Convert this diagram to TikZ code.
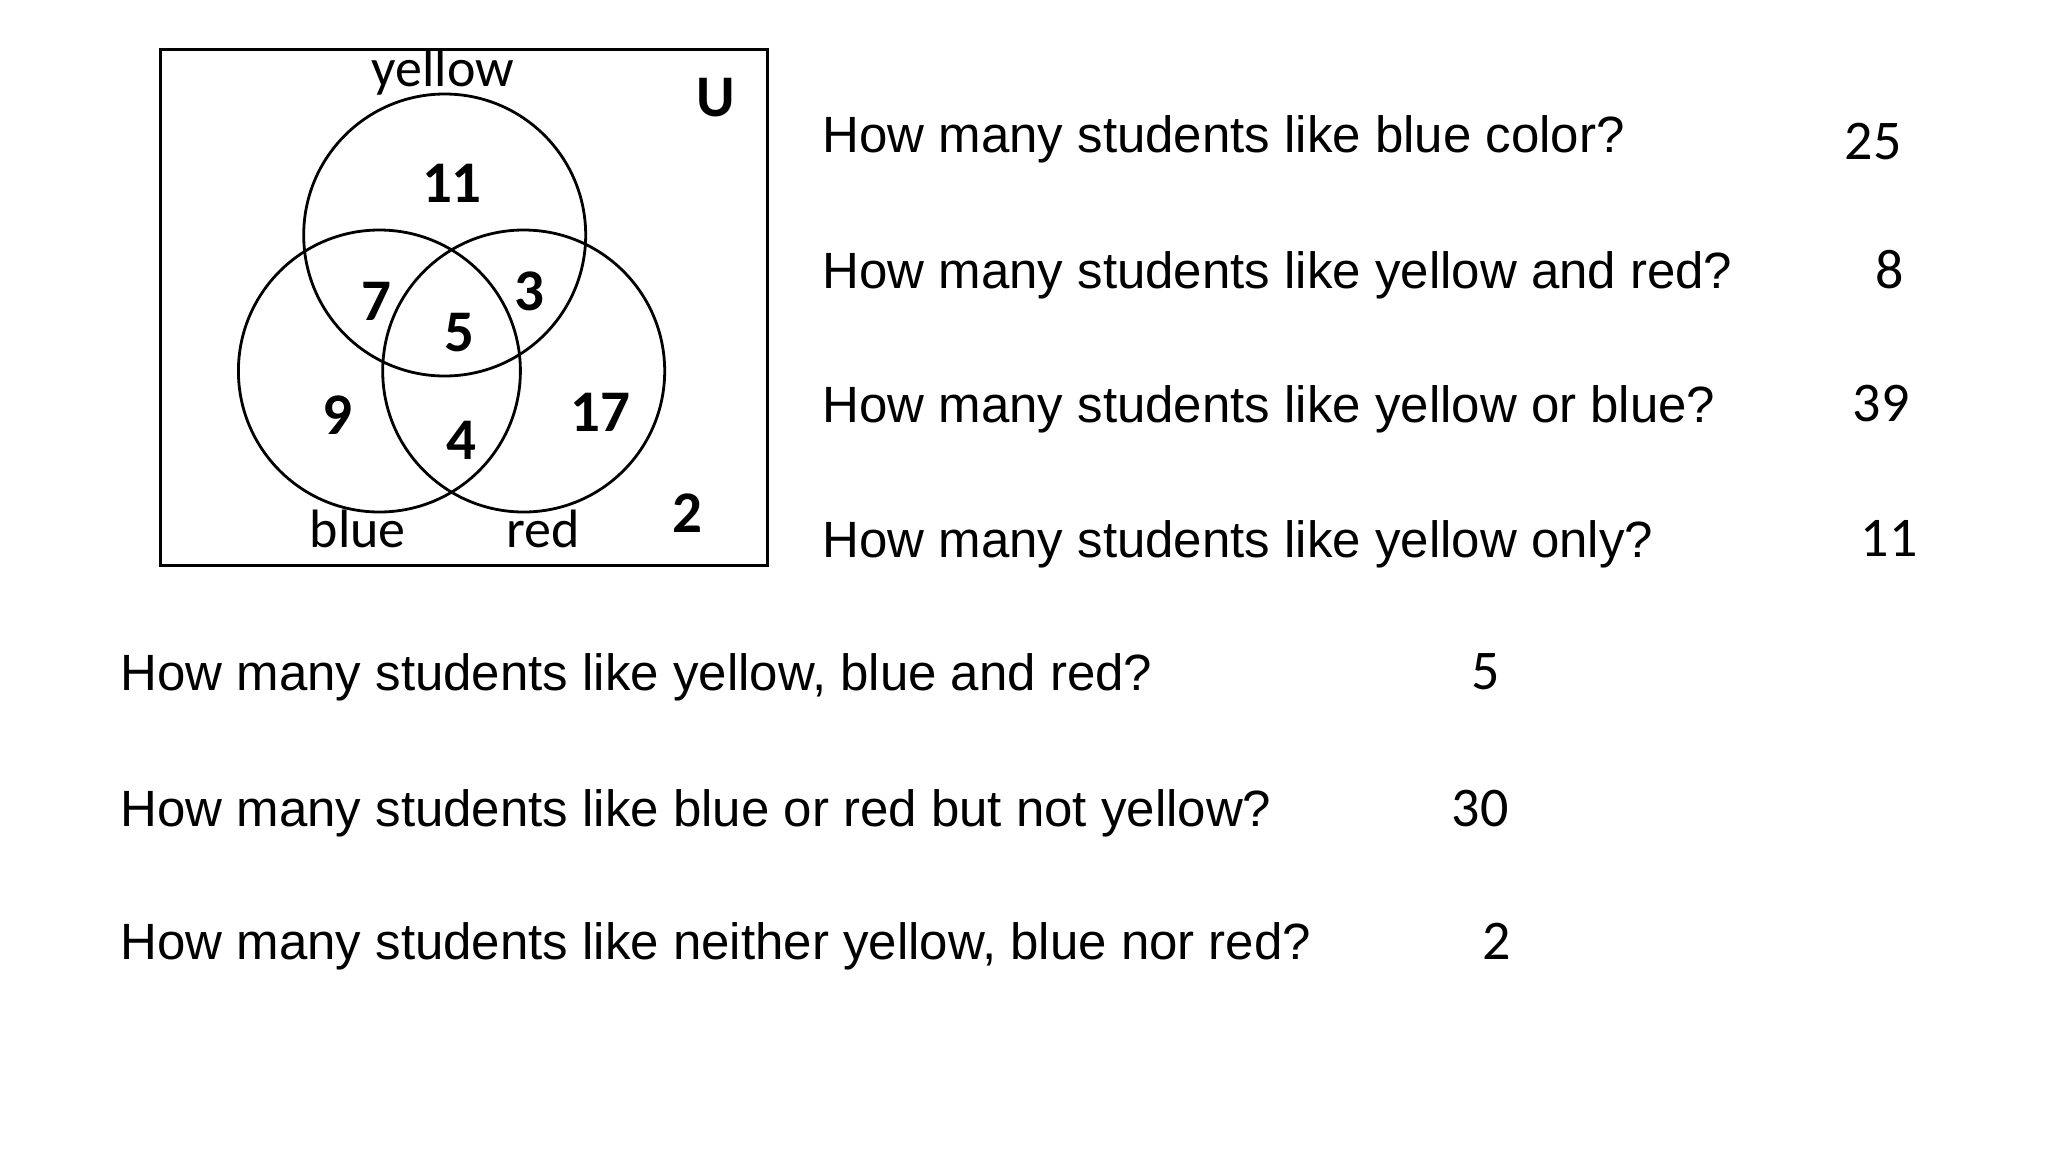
\documentclass[tikz,border=0pt]{standalone}
\usepackage{fontspec}
\setmainfont{Liberation Sans}
\newfontfamily\calib{Carlito}
\begin{document}
\begin{tikzpicture}[x=1pt,y=-1pt,
  set/.style={draw,circle,line width=2.8pt,minimum size=282pt,inner sep=0pt},
  count/.style={font=\calib\bfseries\fontsize{59}{64}\selectfont},
  setname/.style={font=\calib\fontsize{54}{60}\selectfont},
  question/.style={anchor=base west,font=\fontsize{51}{60}\selectfont},
  answer/.style={anchor=base,font=\calib\fontsize{56}{64}\selectfont}]
\useasboundingbox (0,0) rectangle (2048,1152);
% universe and the three sets
\node[draw,line width=3pt,minimum width=607pt,minimum height=516pt,inner sep=0pt] (U) at (464.4,307.6) {};
\node[set] (yellow) at (444.7,235) {};
\node[set] (blue) at (379.4,371) {};
\node[set] (red) at (523.7,371) {};
\node[setname] (ylab) at (442.8,71.8) {yellow};
\node[setname] (blab) at (357.9,529) {blue};
\node[setname] (rlab) at (543.3,529) {red};
\node[count] (ulab) at (715.7,98) {U};
% counts
\node[count] (n11) at (451.9,182.9) {11};
\node[count] (n7) at (376.2,301.7) {7};
\node[count] (n3) at (529,291.3) {3};
\node[count] (n5) at (459.7,333) {5};
\node[count] (n9) at (337,415.3) {9};
\node[count] (n4) at (461,440) {4};
\node[count] (n17) at (600.8,412.7) {17};
\node[count] (n2) at (687,513.3) {2};
% questions
\node[question] (q1) at (819,152) {How many students like blue color?};
\node[question] (q2) at (819,288) {How many students like yellow and red?};
\node[question] (q3) at (819,422) {How many students like yellow or blue?};
\node[question] (q4) at (819,557) {How many students like yellow only?};
\node[question] (q5) at (117,690) {How many students like yellow, blue and red?};
\node[question] (q6) at (117,826) {How many students like blue or red but not yellow?};
\node[question] (q7) at (117,959) {How many students like neither yellow, blue nor red?};
% answers
\node[answer] (a1) at (1873,159) {25};
\node[answer] (a2) at (1890,288) {8};
\node[answer] (a3) at (1881,421) {39};
\node[answer] (a4) at (1889,556) {11};
\node[answer] (a5) at (1486,689) {5};
\node[answer] (a6) at (1480,826) {30};
\node[answer] (a7) at (1497,959) {2};
\end{tikzpicture}
\end{document}
